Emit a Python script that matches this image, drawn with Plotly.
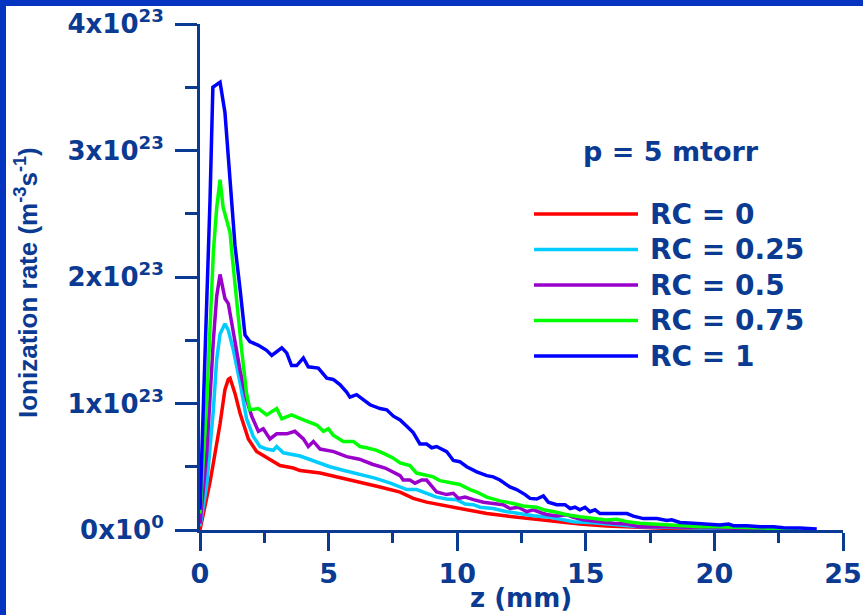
import plotly.graph_objects as go

# Ionization rate profiles along z, in units of 1e23 m^-3 s^-1
z_rc0 = [0, 0.22, 0.39, 0.52, 0.78, 0.97, 1.1, 1.17, 1.36, 1.56, 1.88, 2.2, 2.59, 3.11, 3.63,
         3.89, 4.67, 5.8, 6.2, 7.0, 7.78, 8.29, 8.81, 9.59, 10.37, 11.15, 11.93, 12.96, 13.74,
         14.77, 15.81, 16.85, 18.15, 19.44, 20.74, 22.0]
rate_rc0 = [0.0, 0.21, 0.38, 0.53, 0.84, 1.11, 1.19, 1.20, 1.08, 0.92, 0.72, 0.62, 0.57, 0.51, 0.49,
            0.47, 0.45, 0.40, 0.38, 0.34, 0.30, 0.25, 0.22, 0.19, 0.16, 0.13, 0.11, 0.085, 0.066,
            0.047, 0.032, 0.021, 0.013, 0.008, 0.005, 0.003]

z_rc025 = [0, 0.26, 0.52, 0.65, 0.78, 0.97, 1.1, 1.3, 1.56, 1.81, 2.07, 2.33, 2.59, 2.85, 2.98,
           3.24, 3.89, 4.5, 5.05, 5.6, 6.2, 6.8, 7.4, 7.78, 8.04, 8.42, 8.81, 9.2, 9.59, 9.98,
           10.31, 10.63, 10.89, 11.4, 11.93, 12.44, 12.96, 13.61, 14.52, 15.29, 16.2, 17.1,
           18.15, 19.44, 20.74, 22.04]
rate_rc025 = [0.03, 0.35, 0.95, 1.35, 1.55, 1.63, 1.58, 1.42, 1.16, 0.88, 0.74, 0.66, 0.64, 0.63, 0.66,
              0.61, 0.585, 0.54, 0.50, 0.47, 0.44, 0.41, 0.37, 0.34, 0.32, 0.32, 0.29, 0.26, 0.245, 0.24,
              0.205, 0.20, 0.18, 0.17, 0.145, 0.126, 0.113, 0.10, 0.066, 0.058, 0.04, 0.026,
              0.021, 0.013, 0.01, 0.008]

z_rc05 = [0, 0.26, 0.52, 0.65, 0.78, 0.97, 1.1, 1.3, 1.56, 1.81, 2.01, 2.27, 2.46, 2.72, 2.98,
          3.37, 3.69, 4.02, 4.21, 4.41, 4.67, 5.2, 5.7, 6.2, 6.7, 7.2, 7.5, 7.78, 7.9, 8.16, 8.36,
          8.62, 8.81, 9.2, 9.59, 9.85, 10.05, 10.31, 10.63, 11.02, 11.4, 11.79, 12.05, 12.38,
          12.7, 12.96, 13.35, 13.54, 13.87, 14.26, 14.52, 14.9, 15.55, 16.07, 16.6, 17.1,
          18.15, 19.44, 20.74, 22.04]
rate_rc05 = [0.05, 0.6, 1.5, 1.85, 2.02, 1.83, 1.79, 1.55, 1.26, 1.03, 0.90, 0.78, 0.80, 0.72, 0.76,
             0.76, 0.78, 0.72, 0.66, 0.70, 0.64, 0.62, 0.58, 0.56, 0.52, 0.49, 0.46, 0.43, 0.395, 0.395, 0.37,
             0.395, 0.395, 0.30, 0.28, 0.29, 0.25, 0.26, 0.24, 0.22, 0.21, 0.20, 0.17, 0.18,
             0.145, 0.16, 0.13, 0.12, 0.11, 0.12, 0.10, 0.08, 0.066, 0.053, 0.047, 0.026,
             0.026, 0.018, 0.013, 0.008]

z_rc075 = [0, 0.26, 0.52, 0.65, 0.78, 0.9, 1.17, 1.23, 1.62, 1.81, 1.94, 2.27, 2.59, 2.98, 3.18,
           3.56, 4.02, 4.54, 4.8, 4.99, 5.18, 5.57, 5.96, 6.22, 6.48, 6.87, 7.2, 7.5, 7.78, 8.16,
           8.42, 8.81, 9.07, 9.33, 9.85, 10.1, 10.5, 10.76, 11.15, 11.66, 12.18, 12.57, 13.09,
           13.35, 13.87, 14.26, 14.77, 15.29, 15.81, 16.2, 16.6, 17.1, 17.63, 18.15, 18.79,
           19.44, 20.09, 20.74, 22.04, 23.3]
rate_rc075 = [0.13, 1.0, 2.2, 2.55, 2.77, 2.55, 2.35, 2.21, 1.42, 1.08, 0.95, 0.96, 0.91, 0.96, 0.88,
              0.91, 0.87, 0.83, 0.78, 0.80, 0.75, 0.70, 0.70, 0.66, 0.65, 0.63, 0.60, 0.57, 0.53, 0.51,
              0.45, 0.43, 0.42, 0.39, 0.37, 0.36, 0.32, 0.30, 0.26, 0.23, 0.21, 0.19, 0.18,
              0.16, 0.14, 0.12, 0.105, 0.09, 0.08, 0.085, 0.066, 0.053, 0.047, 0.04, 0.032,
              0.026, 0.026, 0.021, 0.013, 0.008]

z_rc1 = [0, 0.2, 0.39, 0.5, 0.78, 0.97, 1.36, 1.56, 1.75, 1.94, 2.27, 2.59, 2.79, 3.18, 3.37,
         3.56, 3.76, 4.02, 4.21, 4.6, 4.93, 5.18, 5.44, 5.7, 5.83, 6.09, 6.35, 6.61, 7.0, 7.26,
         7.52, 7.78, 8.04, 8.29, 8.55, 8.81, 9.01, 9.2, 9.59, 9.85, 10.1, 10.37, 10.76, 11.15,
         11.4, 11.66, 12.05, 12.31, 12.64, 12.83, 13.09, 13.35, 13.54, 13.87, 14.19, 14.39,
         14.58, 14.77, 14.97, 15.16, 15.36, 15.55, 16.07, 16.6, 16.85, 17.24, 17.76, 18.15,
         18.34, 18.66, 19.18, 19.7, 20.22, 20.55, 20.74, 21.26, 21.78, 22.3, 22.68, 23.3, 23.98]
rate_rc1 = [0.16, 1.4, 2.61, 3.50, 3.54, 3.30, 2.25, 1.90, 1.54, 1.49, 1.46, 1.42, 1.38, 1.44, 1.40,
            1.30, 1.30, 1.36, 1.29, 1.28, 1.20, 1.19, 1.15, 1.09, 1.05, 1.07, 1.03, 0.99, 0.96, 0.95,
            0.90, 0.87, 0.82, 0.77, 0.68, 0.68, 0.65, 0.66, 0.62, 0.55, 0.54, 0.50, 0.46, 0.43,
            0.42, 0.395, 0.34, 0.32, 0.28, 0.25, 0.245, 0.27, 0.22, 0.20, 0.20, 0.17,
            0.18, 0.16, 0.18, 0.145, 0.16, 0.13, 0.13, 0.13, 0.11, 0.09, 0.09, 0.075,
            0.08, 0.06, 0.053, 0.047, 0.04, 0.047, 0.034, 0.034, 0.026, 0.026, 0.018, 0.016, 0.008]

series_names = ["RC = 0", "RC = 0.25", "RC = 0.5", "RC = 0.75", "RC = 1"]
series_colors = ["#ff0000", "#00ccff", "#9900cc", "#00ff00", "#0000ff"]
series_z = [z_rc0, z_rc025, z_rc05, z_rc075, z_rc1]
series_rate = [rate_rc0, rate_rc025, rate_rc05, rate_rc075, rate_rc1]

y_tickvals = [0, 1e23, 2e23, 3e23, 4e23]
y_ticktext = ["0x10<sup>0</sup>", "1x10<sup>23</sup>", "2x10<sup>23</sup>",
              "3x10<sup>23</sup>", "4x10<sup>23</sup>"]
x_tickvals = [0, 5, 10, 15, 20, 25]

SCALE = 1e23
W, H = 863, 615
L, R, T, B = 200, 20, 24, 85
PW, PH = W - L - R, H - T - B
INK = "#0b3a92"
FRAME = "#0535c0"


def fx(px):
    return (px - L) / PW


def fy(py):
    return (H - B - py) / PH


fig = go.Figure()
for name, color, zs, rs in zip(series_names, series_colors, series_z, series_rate):
    fig.add_trace(go.Scatter(
        x=zs, y=[r * SCALE for r in rs], mode="lines", name=name,
        line=dict(color=color, width=3.5), showlegend=False,
    ))

shapes = [
    # slide frame bands along top and left edges
    dict(type="rect", xref="paper", yref="paper", x0=fx(0), x1=fx(W), y0=fy(6), y1=fy(0),
         fillcolor=FRAME, line_width=0, layer="above"),
    dict(type="rect", xref="paper", yref="paper", x0=fx(0), x1=fx(6), y0=fy(H), y1=fy(0),
         fillcolor=FRAME, line_width=0, layer="above"),
]
annotations = [
    dict(text="<b>p = 5 mtorr</b>", xref="paper", yref="paper", x=fx(671), y=fy(151),
         showarrow=False, font=dict(family="DejaVu Sans", size=27, color=INK),
         xanchor="center", yanchor="middle"),
    dict(text="<b>Ionization rate (m<sup>-3</sup>s<sup>-1</sup>)</b>", xref="paper", yref="paper",
         x=fx(27), y=fy(283), textangle=-90, showarrow=False,
         font=dict(family="Liberation Sans", size=26, color=INK),
         xanchor="center", yanchor="middle"),
    dict(text="<b>z (mm)</b>", xref="paper", yref="paper", x=fx(521), y=fy(598),
         showarrow=False, font=dict(family="DejaVu Sans", size=26, color=INK),
         xanchor="center", yanchor="middle"),
]

# key: long line samples with labels
key_y = [214, 249.5, 285, 320.5, 356]
for name, color, ky in zip(series_names, series_colors, key_y):
    shapes.append(dict(type="line", xref="paper", yref="paper", x0=fx(534), x1=fx(638),
                       y0=fy(ky), y1=fy(ky), line=dict(color=color, width=3.5)))
    annotations.append(dict(text="<b>" + name + "</b>", xref="paper", yref="paper",
                            x=fx(648), y=fy(ky), showarrow=False, xanchor="left",
                            yanchor="middle",
                            font=dict(family="DejaVu Sans", size=28, color=INK)))

fig.update_layout(
    width=W, height=H,
    margin=dict(l=L, r=R, t=T, b=B, autoexpand=False),
    paper_bgcolor="white", plot_bgcolor="white",
    showlegend=False,
    shapes=shapes, annotations=annotations,
    xaxis=dict(
        range=[0, 25], tickvals=x_tickvals, showgrid=False, zeroline=False,
        showline=True, linecolor=INK, linewidth=3,
        ticks="outside", ticklen=18, tickwidth=3, tickcolor=INK,
        minor=dict(ticks="outside", ticklen=10, tickwidth=3, tickcolor=INK, dtick=2.5),
        tickfont=dict(family="DejaVu Sans", size=27, color=INK, weight="bold"),
    ),
    yaxis=dict(
        range=[0, 4e23], tickvals=y_tickvals, ticktext=y_ticktext, showgrid=False,
        zeroline=False, showline=True, linecolor=INK, linewidth=3,
        ticks="outside", ticklen=22, tickwidth=3, tickcolor=INK,
        minor=dict(ticks="outside", ticklen=12, tickwidth=3, tickcolor=INK, dtick=0.5e23),
        tickfont=dict(family="DejaVu Sans", size=26, color=INK, weight="bold"),
        ticklabelstandoff=6,
    ),
)

fig.write_html("out.html")
